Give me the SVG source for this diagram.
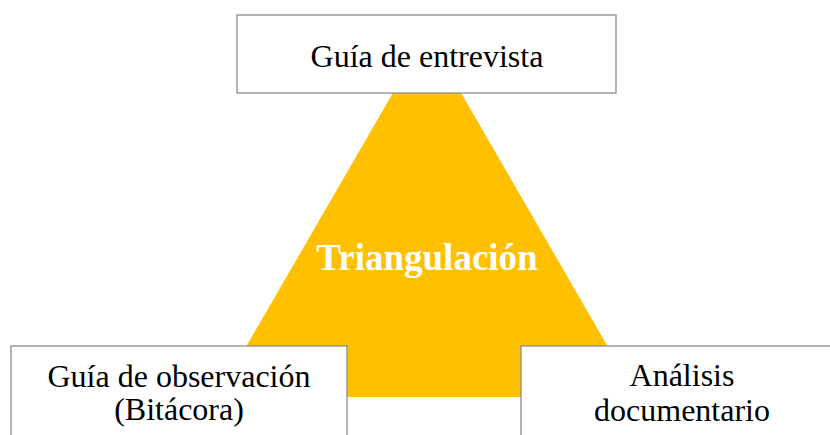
<svg xmlns="http://www.w3.org/2000/svg" width="830" height="435" viewBox="0 0 830 435">
<style>
.box{fill:#fff;stroke:#8c8c8c;stroke-width:1.3}
.lbl{font-family:"Liberation Serif","Times New Roman",serif;font-size:32px;fill:#000;text-anchor:middle}
.center{font-family:"Liberation Serif","Times New Roman",serif;font-size:37px;font-weight:bold;fill:#fff;text-anchor:middle}
</style>
<rect width="830" height="435" fill="#fff"/>
<g id="triangle">
<polygon points="427,34 217,397 637,397" fill="#FFC000"/>
<text class="center" x="427" y="270">Triangulación</text>
</g>
<g id="connectors"></g>
<g id="entrevista">
<rect class="box" x="237" y="15" width="379" height="78"/>
<text class="lbl" x="427" y="67">Guía de entrevista</text>
</g>
<g id="observacion">
<rect class="box" x="11" y="346" width="336" height="100"/>
<text class="lbl" x="179" y="387">Guía de observación</text>
<text class="lbl" x="179" y="420">(Bitácora)</text>
</g>
<g id="documental">
<rect class="box" x="521" y="346" width="330" height="100"/>
<text class="lbl" x="682" y="386">Análisis</text>
<text class="lbl" x="682" y="421">documentario</text>
</g>
</svg>
